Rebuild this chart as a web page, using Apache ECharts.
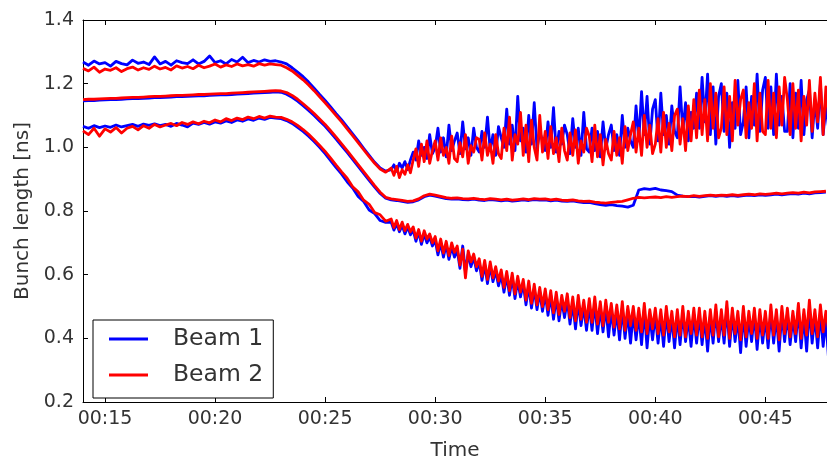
<!DOCTYPE html>
<html>
<head>
<meta charset="utf-8">
<script src="https://cdn.jsdelivr.net/npm/echarts@6/dist/echarts.min.js"></script>
<style>html,body{margin:0;padding:0;background:#fff}#c{width:827px;height:466px}</style>
</head>
<body>
<div id="c"></div>
<script>
// Time in minutes after 00:00 (quarter-minute samples)
const timeMin = [14,14.25,14.5,14.75,15,15.25,15.5,15.75,16,16.25,16.5,16.75,17,17.25,17.5,17.75,18,18.25,18.5,18.75,19,19.25,19.5,19.75,20,20.25,20.5,20.75,21,21.25,21.5,21.75,22,22.25,22.5,22.75,23,23.25,23.5,23.75,24,24.25,24.5,24.75,25,25.25,25.5,25.75,26,26.25,26.5,26.75,27,27.25,27.5,27.75,28,28.25,28.5,28.75,29,29.25,29.5,29.75,30,30.25,30.5,30.75,31,31.25,31.5,31.75,32,32.25,32.5,32.75,33,33.25,33.5,33.75,34,34.25,34.5,34.75,35,35.25,35.5,35.75,36,36.25,36.5,36.75,37,37.25,37.5,37.75,38,38.25,38.5,38.75,39,39.25,39.5,39.75,40,40.25,40.5,40.75,41,41.25,41.5,41.75,42,42.25,42.5,42.75,43,43.25,43.5,43.75,44,44.25,44.5,44.75,45,45.25,45.5,45.75,46,46.25,46.5,46.75,47,47.25,47.5,47.75];
// Finer samples after 00:28 for the noisy max/min traces
const timeFine = [28,28.125,28.25,28.375,28.5,28.625,28.75,28.875,29,29.125,29.25,29.375,29.5,29.625,29.75,29.875,30,30.125,30.25,30.375,30.5,30.625,30.75,30.875,31,31.125,31.25,31.375,31.5,31.625,31.75,31.875,32,32.125,32.25,32.375,32.5,32.625,32.75,32.875,33,33.125,33.25,33.375,33.5,33.625,33.75,33.875,34,34.125,34.25,34.375,34.5,34.625,34.75,34.875,35,35.125,35.25,35.375,35.5,35.625,35.75,35.875,36,36.125,36.25,36.375,36.5,36.625,36.75,36.875,37,37.125,37.25,37.375,37.5,37.625,37.75,37.875,38,38.125,38.25,38.375,38.5,38.625,38.75,38.875,39,39.125,39.25,39.375,39.5,39.625,39.75,39.875,40,40.125,40.25,40.375,40.5,40.625,40.75,40.875,41,41.125,41.25,41.375,41.5,41.625,41.75,41.875,42,42.125,42.25,42.375,42.5,42.625,42.75,42.875,43,43.125,43.25,43.375,43.5,43.625,43.75,43.875,44,44.125,44.25,44.375,44.5,44.625,44.75,44.875,45,45.125,45.25,45.375,45.5,45.625,45.75,45.875,46,46.125,46.25,46.375,46.5,46.625,46.75,46.875,47,47.125,47.25,47.375,47.5,47.625,47.75,47.875];

const beam1Max = [1.268,1.258,1.271,1.262,1.266,1.255,1.270,1.263,1.259,1.274,1.264,1.268,1.260,1.284,1.262,1.270,1.258,1.272,1.266,1.263,1.275,1.262,1.270,1.287,1.266,1.272,1.262,1.276,1.268,1.283,1.266,1.273,1.268,1.275,1.270,1.272,
1.268,1.262,1.250,1.236,1.222,1.205,1.186,1.166,1.147,1.127,1.106,1.086,1.064,1.042,1.020,0.997,0.975,0.953,0.935,0.925,
0.930,0.945,0.925,0.950,0.935,0.955,0.930,0.960,
0.985,0.960,1.020,0.975,1.000,0.965,1.040,0.980,
1.000,1.060,0.985,1.030,0.970,1.070,0.990,1.020,
1.045,0.980,1.080,0.995,1.030,0.975,1.060,1.000,
0.985,1.050,1.000,1.095,0.990,1.040,0.975,1.065,
1.030,1.000,1.120,1.010,1.070,0.990,1.160,1.020,
1.060,0.985,1.100,1.010,1.140,0.995,1.050,1.020,
0.990,1.080,1.000,1.125,0.985,1.050,1.010,1.070,
1.040,0.980,1.090,1.000,1.060,0.975,1.110,0.995,
0.985,1.060,0.990,1.050,0.970,1.080,0.995,1.040,
1.070,0.990,1.040,0.975,1.100,1.000,1.060,1.020,
1.000,1.130,1.020,1.175,1.040,1.160,1.010,1.120,
1.150,1.020,1.170,1.040,1.100,1.010,1.130,1.050,
1.030,1.190,1.050,1.140,1.020,1.110,1.060,1.170,
1.060,1.220,1.080,1.230,1.040,1.190,1.010,1.160,
1.200,1.050,1.170,1.000,1.140,1.060,1.210,1.040,
1.080,1.190,1.030,1.160,1.070,1.230,1.050,1.180,
1.220,1.060,1.190,1.040,1.230,1.070,1.160,1.050,
1.050,1.200,1.030,1.170,1.060,1.210,1.040,1.150,
1.180,1.030,1.150,1.060,1.200,1.040,1.130,1.060];

const beam1Mean = [1.146,1.147,1.147,1.148,1.149,1.150,1.150,1.151,1.152,1.153,1.153,1.154,1.155,1.156,1.156,1.157,1.158,1.159,1.159,1.160,1.161,1.162,1.162,1.163,1.164,1.165,1.165,1.166,1.167,1.168,1.169,1.170,1.171,1.172,1.173,1.174,
1.173,1.167,1.157,1.145,1.131,1.116,1.100,1.083,1.066,1.046,1.026,1.005,0.984,0.962,0.940,0.918,0.896,0.875,0.855,0.840,
0.835,0.833,0.830,0.827,0.829,0.835,0.845,0.850,0.847,0.843,0.839,0.837,0.838,0.836,0.835,0.837,0.834,0.833,0.836,0.834,0.832,0.834,0.831,0.833,0.835,0.833,0.836,0.834,0.835,0.832,0.834,0.831,0.830,0.832,0.829,0.826,0.827,0.823,0.820,0.818,0.820,0.817,0.815,0.812,0.818,0.866,0.870,0.868,0.871,0.866,0.864,0.861,0.850,0.847,0.845,0.846,0.844,0.846,0.848,0.846,0.848,0.846,0.848,0.846,0.848,0.850,0.848,0.851,0.849,0.851,0.853,0.851,0.853,0.855,0.853,0.856,0.854,0.857,0.858,0.859];

const beam1Min = [1.066,1.060,1.068,1.062,1.067,1.063,1.070,1.064,1.068,1.072,1.066,1.073,1.069,1.074,1.068,1.072,1.066,1.075,1.070,1.064,1.076,1.072,1.078,1.073,1.080,1.076,1.083,1.078,1.086,1.082,1.089,1.085,1.092,1.088,1.094,1.092,
1.090,1.084,1.075,1.063,1.050,1.035,1.018,1.000,0.980,0.958,0.936,0.916,0.892,0.872,0.846,0.830,0.803,0.792,0.770,0.764,
0.765,0.740,0.760,0.735,0.755,0.728,0.750,0.725,
0.740,0.705,0.735,0.695,0.728,0.700,0.718,0.690,
0.708,0.662,0.700,0.655,0.695,0.648,0.688,0.655,
0.678,0.620,0.690,0.610,0.665,0.625,0.655,0.612,
0.640,0.582,0.632,0.572,0.628,0.578,0.612,0.565,
0.600,0.545,0.598,0.535,0.592,0.525,0.582,0.530,
0.572,0.505,0.566,0.495,0.556,0.490,0.546,0.485,
0.540,0.472,0.535,0.460,0.530,0.455,0.520,0.465,
0.520,0.445,0.510,0.430,0.515,0.440,0.500,0.425,
0.505,0.425,0.510,0.415,0.495,0.420,0.500,0.405,
0.490,0.410,0.485,0.395,0.495,0.400,0.480,0.385,
0.480,0.395,0.475,0.380,0.490,0.370,0.470,0.395,
0.475,0.385,0.470,0.375,0.480,0.390,0.465,0.370,
0.470,0.380,0.480,0.390,0.465,0.375,0.475,0.385,
0.475,0.380,0.465,0.360,0.470,0.385,0.485,0.390,
0.470,0.385,0.495,0.375,0.475,0.390,0.465,0.355,
0.480,0.375,0.465,0.390,0.475,0.365,0.470,0.385,
0.465,0.370,0.485,0.385,0.470,0.360,0.480,0.390,
0.475,0.380,0.465,0.390,0.490,0.370,0.470,0.360,
0.495,0.385,0.470,0.370,0.480,0.375,0.460,0.330];

const beam2Max = [1.248,1.240,1.252,1.236,1.246,1.242,1.250,1.238,1.247,1.252,1.243,1.250,1.245,1.255,1.246,1.251,1.243,1.256,1.249,1.254,1.247,1.258,1.250,1.255,1.262,1.252,1.259,1.254,1.262,1.256,1.260,1.255,1.263,1.258,1.262,1.260,
1.258,1.250,1.240,1.226,1.212,1.196,1.178,1.159,1.140,1.120,1.100,1.080,1.058,1.037,1.015,0.993,0.971,0.950,0.932,0.922,
0.935,0.912,0.940,0.905,0.930,0.915,0.945,0.920,
0.960,0.995,0.940,1.010,0.955,1.020,0.950,0.990,
1.020,0.960,1.030,0.975,1.000,0.950,1.035,0.965,
0.955,1.015,0.970,1.040,0.950,1.005,0.985,1.030,
1.025,0.960,1.045,0.975,1.010,0.950,1.040,0.980,
0.965,1.060,0.990,1.095,0.960,1.040,1.010,1.110,
0.975,1.070,0.955,1.085,1.000,0.960,1.100,0.985,
1.050,0.965,1.065,0.980,1.030,0.955,1.060,0.990,
0.960,1.045,0.975,1.055,0.950,1.020,0.985,1.060,
1.035,0.955,1.070,0.970,1.040,0.945,1.025,0.980,
0.960,1.050,0.975,1.030,0.950,1.065,0.990,1.040,
1.080,0.985,1.060,0.975,1.100,1.000,1.070,0.980,
1.010,1.090,0.985,1.110,1.000,1.075,0.990,1.100,
1.120,1.010,1.090,0.990,1.130,1.020,1.150,1.030,
1.180,1.040,1.150,1.020,1.200,1.060,1.170,1.030,
1.060,1.190,1.040,1.160,1.020,1.210,1.070,1.150,
1.180,1.030,1.140,1.060,1.200,1.020,1.170,1.050,
1.040,1.210,1.060,1.170,1.030,1.190,1.070,1.220,
1.150,1.040,1.200,1.060,1.180,1.020,1.160,1.070,
1.210,1.050,1.170,1.080,1.220,1.040,1.190,1.090];

const beam2Mean = [1.150,1.151,1.151,1.152,1.153,1.154,1.154,1.155,1.156,1.157,1.157,1.158,1.159,1.160,1.160,1.161,1.162,1.163,1.163,1.164,1.165,1.166,1.166,1.167,1.168,1.169,1.169,1.170,1.171,1.172,1.173,1.174,1.175,1.176,1.177,1.178,
1.177,1.172,1.163,1.151,1.137,1.122,1.106,1.089,1.072,1.052,1.032,1.011,0.990,0.968,0.946,0.924,0.902,0.880,0.859,0.843,
0.838,0.836,0.833,0.830,0.832,0.838,0.848,0.853,0.850,0.846,0.842,0.840,0.841,0.839,0.838,0.840,0.837,0.836,0.839,0.837,0.835,0.837,0.834,0.836,0.838,0.836,0.839,0.837,0.838,0.835,0.837,0.834,0.833,0.835,0.832,0.830,0.831,0.828,0.826,0.825,0.827,0.829,0.830,0.835,0.840,0.843,0.841,0.843,0.844,0.842,0.845,0.843,0.845,0.847,0.845,0.848,0.846,0.848,0.850,0.848,0.850,0.849,0.851,0.849,0.851,0.853,0.851,0.854,0.852,0.854,0.856,0.854,0.856,0.858,0.856,0.859,0.857,0.860,0.861,0.862];

const beam2Min = [1.052,1.040,1.060,1.035,1.058,1.048,1.062,1.045,1.060,1.066,1.055,1.068,1.060,1.072,1.064,1.070,1.075,1.068,1.078,1.072,1.080,1.074,1.082,1.077,1.086,1.080,1.090,1.084,1.092,1.087,1.095,1.090,1.097,1.092,1.098,1.095,
1.094,1.088,1.080,1.069,1.056,1.041,1.024,1.006,0.987,0.966,0.944,0.923,0.903,0.876,0.860,0.834,0.821,0.795,0.788,0.768,
0.775,0.748,0.770,0.742,0.765,0.738,0.758,0.735,
0.750,0.715,0.742,0.705,0.738,0.712,0.728,0.700,
0.720,0.675,0.712,0.668,0.705,0.660,0.700,0.670,
0.690,0.630,0.680,0.590,0.675,0.640,0.665,0.625,
0.650,0.595,0.645,0.585,0.640,0.590,0.625,0.580,
0.615,0.560,0.610,0.550,0.605,0.540,0.595,0.545,
0.585,0.520,0.580,0.510,0.570,0.505,0.560,0.500,
0.555,0.490,0.550,0.480,0.545,0.475,0.535,0.485,
0.540,0.465,0.530,0.455,0.535,0.460,0.520,0.450,
0.525,0.450,0.530,0.445,0.515,0.440,0.520,0.450,
0.510,0.435,0.505,0.430,0.515,0.425,0.500,0.440,
0.500,0.425,0.495,0.420,0.510,0.415,0.490,0.430,
0.495,0.415,0.490,0.410,0.500,0.420,0.485,0.405,
0.490,0.410,0.500,0.405,0.485,0.415,0.495,0.410,
0.495,0.405,0.485,0.400,0.490,0.410,0.505,0.405,
0.490,0.410,0.515,0.400,0.495,0.415,0.485,0.395,
0.500,0.405,0.485,0.415,0.495,0.400,0.490,0.410,
0.485,0.400,0.505,0.410,0.490,0.395,0.500,0.415,
0.495,0.405,0.485,0.415,0.510,0.400,0.490,0.410,
0.520,0.415,0.490,0.405,0.505,0.420,0.485,0.425];

const xTickValues = [15,20,25,30,35,40,45];
const seriesNames = ['Beam 1','Beam 2'];
const beamColors = ['#0000ff','#ff0000'];

const noisyTime = timeMin.slice(0, 56).concat(timeFine);
const pair = (times, vals) => times.map((t,i)=>[t, vals[i]]);
const font = 'DejaVu Sans';
const textColor = '#333333';

function mk(name, color, times, vals){
  return {
    name: name, type: 'line', data: pair(times, vals),
    showSymbol: false, symbol: 'none',
    lineStyle: {color: color, width: 2.8, join: 'round'},
    itemStyle: {color: color},
    emphasis: {disabled: true},
    animation: false
  };
}

const chart = echarts.init(document.getElementById('c'), null, {renderer: 'canvas'});
chart.setOption({
  backgroundColor: '#ffffff',
  animation: false,
  grid: {left: 83, right: -10, top: 20, bottom: 57, containLabel: false},
  xAxis: [{
    type: 'value', min: 14, max: 47.8, position: 'bottom',
    name: 'Time', nameLocation: 'middle', nameGap: 39,
    nameTextStyle: {fontFamily: font, fontSize: 20, color: textColor},
    axisLine: {show: true, onZero: false, lineStyle: {color: '#000', width: 1}},
    axisTick: {show: true, inside: true, length: 5, customValues: xTickValues, lineStyle: {color: '#000'}},
    axisLabel: {customValues: xTickValues, margin: 8, fontFamily: font, fontSize: 19, color: textColor,
      formatter: v => '00:' + String(Math.round(v)).padStart(2,'0')},
    splitLine: {show: false}
  },{
    type: 'value', min: 14, max: 47.8, position: 'top',
    axisLine: {show: true, onZero: false, lineStyle: {color: '#000', width: 1}},
    axisTick: {show: true, inside: true, length: 5, customValues: xTickValues, lineStyle: {color: '#000'}},
    axisLabel: {show: false},
    splitLine: {show: false}
  }],
  yAxis: [{
    type: 'value', min: 0.2, max: 1.4, interval: 0.2, position: 'left',
    name: 'Bunch length [ns]', nameLocation: 'middle', nameGap: 49,
    nameTextStyle: {fontFamily: font, fontSize: 20, color: textColor},
    axisLine: {show: true, onZero: false, lineStyle: {color: '#000', width: 1}},
    axisTick: {show: true, inside: true, length: 5, lineStyle: {color: '#000'}},
    axisLabel: {margin: 9, fontFamily: font, fontSize: 19, color: textColor, formatter: v => v.toFixed(1)},
    splitLine: {show: false}
  }],
  legend: {
    data: seriesNames, selectedMode: false, orient: 'vertical',
    left: 93, top: 320,
    padding: [7, 10, 11, 16],
    itemWidth: 39, itemHeight: 3, itemGap: 12,
    icon: 'rect',
    backgroundColor: '#ffffff', borderColor: '#000000', borderWidth: 1, borderRadius: 0,
    textStyle: {fontFamily: font, fontSize: 23.5, color: textColor, lineHeight: 24, padding: [0,0,0,20]}
  },
  series: [
    mk(seriesNames[0], beamColors[0], noisyTime, beam1Max),
    mk(seriesNames[0], beamColors[0], timeMin, beam1Mean),
    mk(seriesNames[0], beamColors[0], noisyTime, beam1Min),
    mk(seriesNames[1], beamColors[1], noisyTime, beam2Max),
    mk(seriesNames[1], beamColors[1], timeMin, beam2Mean),
    mk(seriesNames[1], beamColors[1], noisyTime, beam2Min)
  ]
});
</script>
</body>
</html>
